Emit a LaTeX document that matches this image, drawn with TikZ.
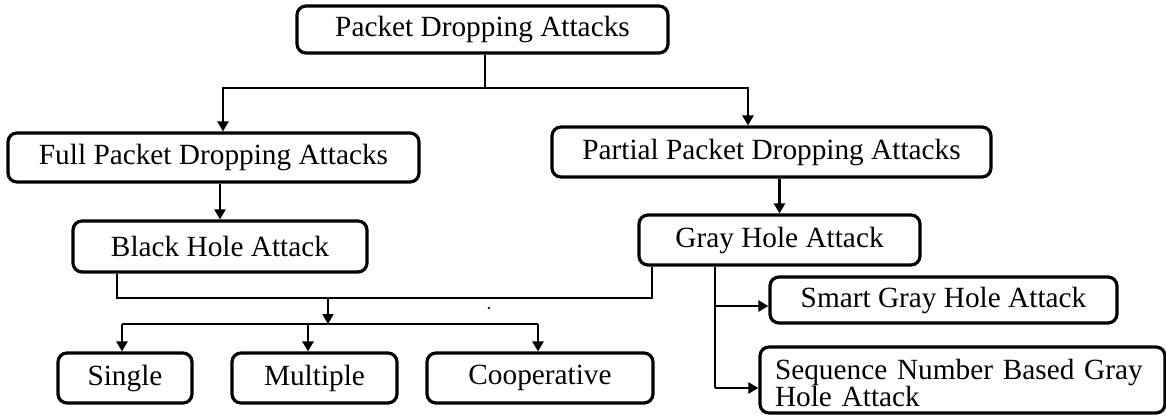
\documentclass[tikz,border=0pt]{standalone}
\usepackage{fontspec}
\setmainfont{Liberation Serif}
\usetikzlibrary{arrows.meta}
\begin{document}
\begin{tikzpicture}[x=1pt,y=-1pt,
  box/.style={draw, line width=3.2pt, rounded corners=9pt, inner sep=0pt,
    font=\fontsize{29.3}{26}\selectfont, text=black},
  link/.style={line width=2.4pt, line join=miter},
  arr/.style={link, -{Triangle[width=11pt,length=10pt]}}]
\useasboundingbox (0,0) rectangle (1166,416);

% nodes
\node[box, minimum width=371pt, minimum height=47pt] (top) at (482.5,29.5) {Packet Dropping Attacks};
\node[box, minimum width=411pt, minimum height=49pt] (full) at (213.5,157.5) {Full Packet Dropping Attacks};
\node[box, minimum width=439pt, minimum height=50pt] (partial) at (771.5,152) {Partial Packet Dropping Attacks};
\node[box, minimum width=294pt, minimum height=51pt] (black) at (220,246.5) {Black Hole Attack};
\node[box, minimum width=281pt, minimum height=50pt] (gray) at (779.5,240) {Gray Hole Attack};
\node[box, minimum width=134pt, minimum height=50pt] (single) at (125,378) {Single};
\node[box, minimum width=165pt, minimum height=50pt] (multiple) at (314.5,378) {Multiple};
\node[box, minimum width=226pt, minimum height=50pt] (coop) at (540,378) {Cooperative};
\node[box, minimum width=347pt, minimum height=46pt] (smart) at (943.5,300) {Smart Gray Hole Attack};
\node[box, minimum height=66pt, inner xsep=15pt, text width=375pt, align=left] (seq) at (962.5,380) {};
\node[font=\fontsize{29.3}{26}\selectfont, inner sep=0pt, text width=375pt, align=left] (seqtext) at (962.5,383)
  {Sequence Number Based Gray\\Hole Attack};

% junction points
\coordinate (j1) at (485,88);
\coordinate (fa) at (223,88);
\coordinate (pa) at (748,88);
\coordinate (bl) at (117,298);
\coordinate (gr) at (652,298);
\coordinate (m1) at (328,298);
\coordinate (m2) at (328,324);
\coordinate (d1) at (122,324);
\coordinate (d2) at (308,324);
\coordinate (d3) at (538,324);
\coordinate (g1) at (715,306);
\coordinate (g2) at (715,388);

% top split
\draw[link] (top.south -| j1) -- (j1);
\draw[arr] (j1) -- (fa) -- (full.north -| fa);
\draw[arr] (j1) -- (pa) -- (partial.north -| pa);

% second level
\draw[arr] (full.south -| black.north) -- (black.north);
\draw[arr] (partial.south -| gray.north) -- (gray.north);

% black and gray merge
\draw[link] (black.south -| bl) -- (bl) -- (gr) -- (gray.south -| gr);
\draw[arr] (m1) -- (m2);
\draw[link] (d1) -- (d3);
\draw[arr] (d1) -- (single.north -| d1);
\draw[arr] (d2) -- (multiple.north -| d2);
\draw[arr] (d3) -- (coop.north -| d3);

% gray hole variants
\draw[link] (gray.south -| g2) -- (g2);
\draw[arr] (g1) -- (g1 -| smart.west);
\draw[arr] (g2) -- (g2 -| seq.west);

% stray mark
\fill[blue] (489,308) circle (1.3pt);
\end{tikzpicture}
\end{document}
